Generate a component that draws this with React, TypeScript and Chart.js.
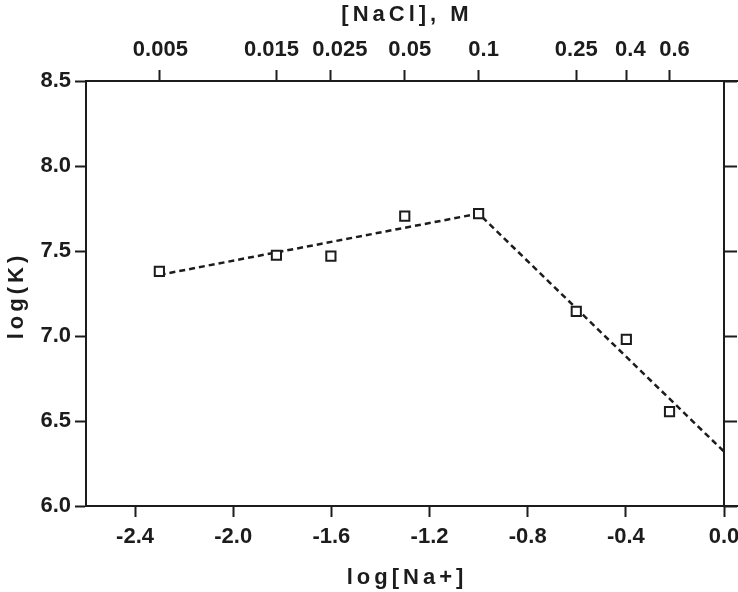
import React, { useEffect, useRef } from "react";
import { Chart, registerables } from "chart.js";

Chart.register(...registerables);

// Measured data: log[Na+] vs log(K)
const logNa = [-2.301, -1.824, -1.602, -1.301, -1.0, -0.602, -0.398, -0.222];
const logK = [7.38, 7.475, 7.47, 7.705, 7.72, 7.145, 6.98, 6.555];

// Two-segment dashed fit
const fitX = [-2.3, -1.0, 0.0];
const fitY = [7.36, 7.72, 6.32];

// Axis ticks
const bottomTicks = [-2.4, -2.0, -1.6, -1.2, -0.8, -0.4, 0.0];
const naclTickLabels = ["0.005", "0.015", "0.025", "0.05", "0.1", "0.25", "0.4", "0.6"];
// small horizontal nudges of the top labels (px), as in the original figure
const naclLabelNudge = [1, -5, 9, 5, 5, 0, 4, 5];

const X_TITLE = "log[Na+]";
const Y_TITLE = "log(K)";
const TOP_TITLE = "[NaCl], M";

const INK = "#1c1c1c";
const FONT_FAMILY = '"Liberation Sans", Arial, sans-serif';
const FONT = "bold 22px " + FONT_FAMILY;

const decor = {
  id: "decor",
  afterDraw(chart: any) {
    const { ctx, chartArea: a, width } = chart;
    ctx.save();
    ctx.strokeStyle = INK;
    ctx.lineWidth = 2;
    ctx.beginPath();
    ctx.moveTo(a.right, a.top);
    ctx.lineTo(width, a.top);
    ctx.moveTo(a.right, a.bottom);
    ctx.lineTo(width, a.bottom);
    ctx.stroke();

    ctx.fillStyle = INK;
    ctx.font = FONT;
    ctx.textAlign = "center";
    ctx.textBaseline = "middle";

    // top (NaCl) tick labels
    const x2 = chart.scales.x2;
    naclTickLabels.forEach((s, i) => {
      const px = x2.getPixelForValue(Math.log10(parseFloat(s)));
      ctx.fillText(s, px + naclLabelNudge[i], 50);
    });

    (ctx as any).letterSpacing = "4px";
    const cx = (a.left + a.right) / 2 + 2;
    ctx.fillText(TOP_TITLE, cx, 15);
    ctx.fillText(X_TITLE, cx, 578);
    ctx.translate(17, (a.top + a.bottom) / 2 + 2);
    ctx.rotate(-Math.PI / 2);
    ctx.fillText(Y_TITLE, 0, 0);
    ctx.restore();
  },
};

export default function App() {
  const ref = useRef<HTMLCanvasElement | null>(null);

  useEffect(() => {
    document.body.style.margin = "0";
    const canvas = ref.current;
    if (!canvas) return;
    const tickFont = { family: FONT_FAMILY, size: 22, weight: "bold" as const };
    const gridCommon = {
      drawOnChartArea: false,
      drawTicks: true,
      tickLength: 11,
      tickWidth: 2,
      tickColor: INK,
    };
    const borderCommon = { display: true, color: INK, width: 2 };
    const zeroPad = (scale: any) => {
      scale.paddingLeft = 0;
      scale.paddingRight = 0;
      scale.paddingTop = 0;
      scale.paddingBottom = 0;
    };

    const chart = new Chart(canvas, {
      type: "scatter",
      data: {
        datasets: [
          {
            label: "data",
            data: logNa.map((x, i) => ({ x, y: logK[i] })),
            pointStyle: "rect",
            pointRadius: 6.5,
            pointBorderWidth: 2,
            pointBorderColor: INK,
            pointBackgroundColor: "#ffffff",
            showLine: false,
            xAxisID: "x",
            yAxisID: "y",
            order: 1,
          },
          {
            label: "fit",
            data: fitX.map((x, i) => ({ x, y: fitY[i] })),
            showLine: true,
            borderColor: INK,
            borderWidth: 2.5,
            borderDash: [6, 4],
            pointRadius: 0,
            fill: false,
            xAxisID: "x",
            yAxisID: "y",
            order: 2,
          },
        ],
      },
      options: {
        responsive: false,
        animation: false,
        devicePixelRatio: 1,
        layout: { padding: 0 },
        plugins: {
          legend: { display: false },
          tooltip: { enabled: false },
        },
        scales: {
          x: {
            type: "linear",
            position: "bottom",
            min: -2.6,
            max: 0.0,
            afterBuildTicks: (scale: any) => {
              scale.ticks = bottomTicks.map((v) => ({ value: v }));
            },
            afterFit: (scale: any) => {
              scale.height = 86;
              zeroPad(scale);
            },
            ticks: {
              font: tickFont,
              color: INK,
              padding: 7,
              maxRotation: 0,
              autoSkip: false,
              callback: (v: any) => Number(v).toFixed(1),
            },
            grid: gridCommon,
            border: borderCommon,
          },
          x2: {
            type: "linear",
            position: "top",
            min: -2.6,
            max: 0.0,
            afterBuildTicks: (scale: any) => {
              scale.ticks = naclTickLabels.map((s) => ({ value: Math.log10(parseFloat(s)) }));
            },
            afterFit: (scale: any) => {
              scale.height = 81;
              zeroPad(scale);
            },
            ticks: {
              display: false,
              autoSkip: false,
            },
            grid: gridCommon,
            border: borderCommon,
          },
          y: {
            type: "linear",
            position: "left",
            min: 6.0,
            max: 8.5,
            ticks: {
              stepSize: 0.5,
              font: tickFont,
              color: INK,
              padding: 4,
              callback: (v: any) => Number(v).toFixed(1),
            },
            afterFit: (scale: any) => {
              scale.width = 86;
              zeroPad(scale);
            },
            grid: gridCommon,
            border: borderCommon,
          },
          y2: {
            type: "linear",
            position: "right",
            min: 6.0,
            max: 8.5,
            ticks: { stepSize: 0.5, display: false },
            afterFit: (scale: any) => {
              scale.width = 14;
              zeroPad(scale);
            },
            grid: { ...gridCommon, tickLength: 13 },
            border: borderCommon,
          },
        },
      },
      plugins: [decor],
    });
    return () => chart.destroy();
  }, []);

  return (
    <div style={{ position: "absolute", left: 0, top: 0, width: 738, height: 592, background: "#fff" }}>
      <canvas ref={ref} width={738} height={592} />
    </div>
  );
}
